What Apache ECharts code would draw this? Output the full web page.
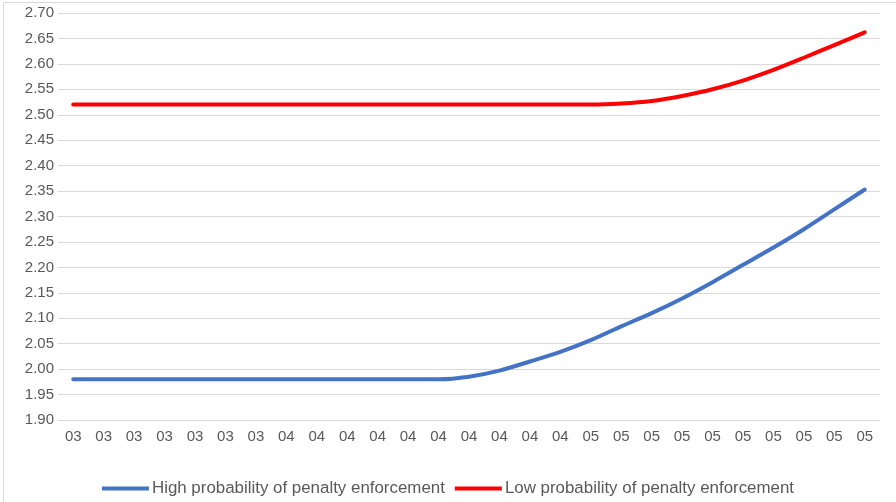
<!DOCTYPE html>
<html>
<head>
<meta charset="utf-8">
<script src="https://cdn.jsdelivr.net/npm/echarts@6/dist/echarts.min.js"></script>
<style>
  html, body { margin: 0; padding: 0; background: #fff; }
  #chart { width: 896px; height: 502px; }
</style>
</head>
<body>
<div id="chart"></div>
<script>
// Category labels along the x axis
const categories = [
  '03','03','03','03','03','03','03',
  '04','04','04','04','04','04','04','04','04','04',
  '05','05','05','05','05','05','05','05','05','05'
];

// Series values
const highProbability = [
  1.98, 1.98, 1.98, 1.98, 1.98, 1.98, 1.98,
  1.98, 1.98, 1.98, 1.98, 1.98, 1.98, 1.985, 1.997, 2.015, 2.034,
  2.057, 2.084, 2.110, 2.139, 2.171, 2.205, 2.239, 2.275, 2.314, 2.353
];
const lowProbability = [
  2.52, 2.52, 2.52, 2.52, 2.52, 2.52, 2.52,
  2.52, 2.52, 2.52, 2.52, 2.52, 2.52, 2.52, 2.52, 2.52, 2.52,
  2.52, 2.522, 2.527, 2.537, 2.550, 2.567, 2.588, 2.612, 2.637, 2.662
];

const seriesNames = [
  'High probability of penalty enforcement',
  'Low probability of penalty enforcement'
];

// Value axis range
const yMin = 1.90, yMax = 2.70, yStep = 0.05;

const textColor = '#595959';
const gridColor = '#d9d9d9';
const fontFamily = '"Liberation Sans", Arial, sans-serif';

const chart = echarts.init(document.getElementById('chart'), null, { renderer: 'canvas' });

chart.setOption({
  animation: false,
  backgroundColor: '#ffffff',
  graphic: [{
    type: 'rect',
    shape: { x: 3.5, y: 2.5, width: 1000, height: 1000 },
    style: { fill: 'none', stroke: gridColor, lineWidth: 1 },
    silent: true
  }],
  grid: { left: 58, right: 16, top: 13, bottom: 82 },
  legend: {
    top: 475,
    left: 'center',
    itemWidth: 47,
    itemHeight: 4,
    itemGap: 10,
    icon: 'rect',
    textStyle: { color: textColor, fontSize: 16.9, fontFamily: fontFamily, padding: [0, 0, 0, -2] },
    data: seriesNames
  },
  xAxis: {
    type: 'category',
    data: categories,
    boundaryGap: true,
    axisLine: { show: false },
    axisTick: { show: false },
    axisLabel: { color: textColor, fontSize: 15, fontFamily: fontFamily, margin: 9, interval: 0 },
    splitLine: { show: false }
  },
  yAxis: {
    type: 'value',
    min: yMin,
    max: yMax,
    interval: yStep,
    axisLine: { show: false },
    axisTick: { show: false },
    axisLabel: {
      color: textColor, fontSize: 15, fontFamily: fontFamily, margin: 4,
      formatter: v => v.toFixed(2)
    },
    splitLine: { lineStyle: { color: gridColor, width: 1 } }
  },
  series: [
    {
      name: seriesNames[0],
      type: 'line',
      data: highProbability,
      smooth: 0.3,
      symbol: 'none',
      lineStyle: { color: '#4472C4', width: 4, cap: 'round' },
      itemStyle: { color: '#4472C4' }
    },
    {
      name: seriesNames[1],
      type: 'line',
      data: lowProbability,
      smooth: 0.3,
      symbol: 'none',
      lineStyle: { color: '#FF0000', width: 4, cap: 'round' },
      itemStyle: { color: '#FF0000' }
    }
  ]
});
</script>
</body>
</html>
